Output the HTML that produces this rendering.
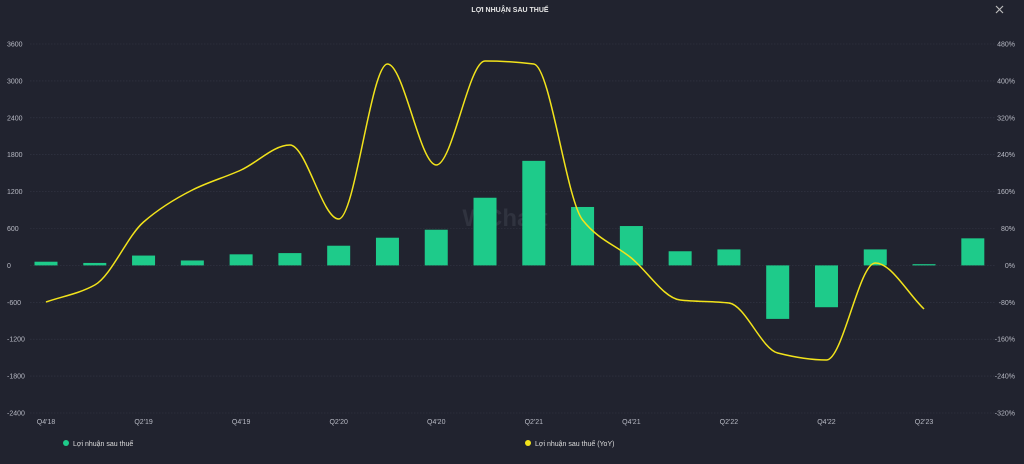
<!DOCTYPE html>
<html><head><meta charset="utf-8"><style>
body{margin:0;background:#21232f;width:1024px;height:459px;overflow:hidden;font-family:"Liberation Sans","Noto Sans CJK SC",sans-serif}
</style></head><body>
<svg id="s" width="1024" height="459" xmlns="http://www.w3.org/2000/svg" font-family="Liberation Sans, sans-serif">
<rect width="1024" height="459" fill="#21232f"/>
<text x="510" y="12" fill="#e6e6e6" font-size="7" text-anchor="middle" font-weight="bold">LỢI NHUẬN SAU THUẾ</text>
<path d="M996 6l7 7M1003 6l-7 7" stroke="#bbb" stroke-width="1.2"/>
<text x="505" y="226" fill="#30333f" font-size="24" font-weight="bold" text-anchor="middle">WChart</text>
<g id="g"></g>
<circle cx="66" cy="443" r="3" fill="#1ecb8a"/>
<text x="73" y="446" fill="#ddd" font-size="7">Lợi nhuận sau thuế</text>
<circle cx="528" cy="443" r="3" fill="#f2e31b"/>
<text x="535" y="446" fill="#ddd" font-size="7">Lợi nhuận sau thuế (YoY)</text>
</svg>
<script>
var g=document.getElementById('g'),h='';
function Y(v){return 265.4-v*0.0615;}
for(var i=0;i<=10;i++){var v=3600-600*i,y=Y(v);
h+='<line x1="30" x2="995" y1="'+y+'" y2="'+y+'" stroke="#343746" stroke-width="0.6" stroke-dasharray="1.5,1.5"/>';
h+='<text x="7" y="'+(y+2.5)+'" fill="#b8bac4" font-size="7">'+v+'</text>';
var p=480-80*i;h+='<text x="1015" y="'+(y+2.5)+'" fill="#b8bac4" font-size="7" text-anchor="end">'+p+'%</text>';}
var vals=[60,40,160,80,180,200,320,450,580,1100,1700,950,640,230,260,-870,-680,260,20,440];
for(var i=0;i<20;i++){var x=46+i*48.78;var y0=Y(0),y1=Y(vals[i]);
h+='<rect x="'+(x-11.5)+'" y="'+Math.min(y0,y1)+'" width="23" height="'+Math.max(1,Math.abs(y1-y0))+'" fill="#1ecb8a"/>';}
var lab=['Q4\'18','Q2\'19','Q4\'19','Q2\'20','Q4\'20','Q2\'21','Q4\'21','Q2\'22','Q4\'22','Q2\'23'];
for(var i=0;i<10;i++){h+='<text x="'+(46+i*97.56)+'" y="424" fill="#b8bac4" font-size="7" text-anchor="middle">'+lab[i]+'</text>';}
var ly=[302,285,222,190,170,145,219,64,165,61,64,220,258,300,303,353,360,263,309];
var n=ly.length,dx=48.78,m=[],s=[];
for(var i=0;i<n-1;i++)s.push((ly[i+1]-ly[i])/dx);
for(var i=0;i<n;i++){if(i==0)m.push(s[0]);else if(i==n-1)m.push(s[n-2]);else if(s[i-1]*s[i]<=0)m.push(0);else m.push(2/(1/s[i-1]+1/s[i]));}
var d='M46 '+ly[0];
for(var i=0;i<n-1;i++){var x1=46+i*dx,x2=x1+dx;
d+=' C'+(x1+dx/3)+' '+(ly[i]+m[i]*dx/3)+' '+(x2-dx/3)+' '+(ly[i+1]-m[i+1]*dx/3)+' '+x2+' '+ly[i+1];}
h+='<path d="'+d+'" fill="none" stroke="#f2e31b" stroke-width="1.5"/>';
g.innerHTML=h;
</script>
</body></html>
